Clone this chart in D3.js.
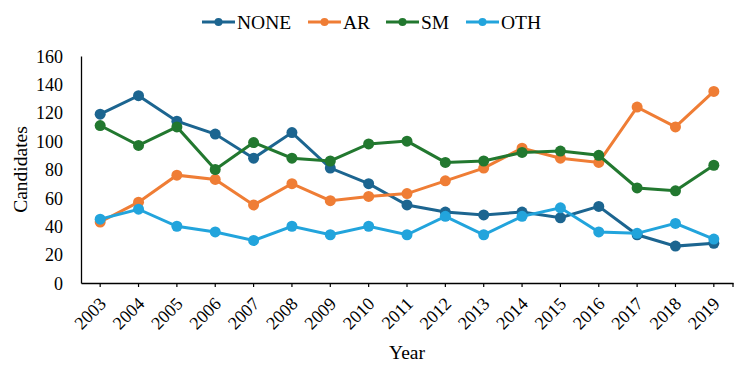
<!DOCTYPE html>
<html>
<head>
<meta charset="utf-8">
<script src="https://cdn.jsdelivr.net/npm/d3@7"></script>
</head>
<body style="margin:0;background:#fff">
<script>
var years = ["2003","2004","2005","2006","2007","2008","2009","2010","2011","2012","2013","2014","2015","2016","2017","2018","2019"];
var seriesNames = ["NONE", "AR", "SM", "OTH"];
var noneVals = [119, 132, 114, 105, 88, 106, 81, 70, 55, 50, 48, 50, 46, 54, 34, 26, 28];
var arVals   = [43, 57, 76, 73, 55, 70, 58, 61, 63, 72, 81, 95, 88, 85, 124, 110, 135];
var smVals   = [111, 97, 110, 80, 99, 88, 86, 98, 100, 85, 86, 92, 93, 90, 67, 65, 83];
var othVals  = [45, 52, 40, 36, 30, 40, 34, 40, 34, 47, 34, 47, 53, 36, 35, 42, 31];
var yTicks = [0, 20, 40, 60, 80, 100, 120, 140, 160];
var colors = ["#1c6590", "#ef7d35", "#22782f", "#22a4dc"];

function main(){
	var w = 750, h = 365;
	var left = 81, right = 733, top = 56, bottom = 283;
	var serif = "'Liberation Serif'";

	var svg = d3.select("body").append("svg")
		.attr("width", w).attr("height", h);

	var xScale = d3.scaleBand().domain(years).range([left, right]);
	var yScale = d3.scaleLinear().domain([0, 160]).range([bottom, top]);

	var series = [noneVals, arVals, smVals, othVals].map(function(v, i){
		return { name: seriesNames[i], color: colors[i], values: v };
	});

	// y axis: line + labels, no tick marks
	var yAxis = d3.axisLeft(yScale).tickValues(yTicks).tickSize(0).tickPadding(18);
	var gy = svg.append("g").attr("transform", "translate(" + left + ",0)").call(yAxis);
	gy.select(".domain").attr("stroke", "#000").attr("stroke-width", 1.3);
	gy.selectAll("text")
		.style("font-family", serif).style("font-size", "18px")
		.attr("fill", "#000").attr("dy", "0.34em");

	// x axis
	var xAxis = d3.axisBottom(xScale).tickSizeOuter(0).tickSizeInner(4);
	var gx = svg.append("g").attr("transform", "translate(0," + bottom + ")").call(xAxis);
	gx.select(".domain").attr("stroke", "#000").attr("stroke-width", 1.3);
	gx.selectAll(".tick line").attr("stroke", "#000").attr("stroke-width", 1.2);
	gx.append("line")
		.attr("x1", xScale.range()[1]).attr("x2", xScale.range()[1])
		.attr("y1", 0).attr("y2", 4)
		.attr("stroke", "#000").attr("stroke-width", 1.2);
	gx.selectAll(".tick text")
		.style("font-family", serif).style("font-size", "18px")
		.attr("fill", "#000")
		.attr("text-anchor", "end")
		.attr("x", 0).attr("y", 0).attr("dy", 0)
		.attr("transform", "translate(7,22) rotate(-45)");

	// axis titles
	svg.append("text")
		.attr("x", (left + right) / 2).attr("y", 359)
		.attr("text-anchor", "middle")
		.style("font-family", serif).style("font-size", "19.5px")
		.text("Year");
	svg.append("text")
		.attr("transform", "translate(27," + ((top + bottom) / 2) + ") rotate(-90)")
		.attr("text-anchor", "middle")
		.style("font-family", serif).style("font-size", "19.5px")
		.text("Candidates");

	// lines and points
	var line = d3.line()
		.x(function(d, i){ return xScale(years[i]) + xScale.bandwidth() / 2; })
		.y(function(d){ return yScale(d); });

	var g = svg.selectAll(".series").data(series).enter().append("g").attr("class", "series");
	g.append("path")
		.attr("d", function(d){ return line(d.values); })
		.attr("fill", "none")
		.attr("stroke", function(d){ return d.color; })
		.attr("stroke-width", 3);
	g.selectAll(".dot")
		.data(function(d){ return d.values.map(function(v, i){ return { v: v, i: i, color: d.color }; }); })
		.enter().append("circle")
		.attr("class", "dot")
		.attr("cx", function(d){ return xScale(years[d.i]) + xScale.bandwidth() / 2; })
		.attr("cy", function(d){ return yScale(d.v); })
		.attr("r", 5.5)
		.attr("fill", function(d){ return d.color; });

	// legend
	var legendX = [202, 308, 386, 466];
	var leg = svg.selectAll(".leg").data(series).enter().append("g")
		.attr("class", "leg")
		.attr("transform", function(d, i){ return "translate(" + legendX[i] + ",22)"; });
	leg.append("line")
		.attr("x1", 0).attr("x2", 33).attr("y1", 0).attr("y2", 0)
		.attr("stroke", function(d){ return d.color; })
		.attr("stroke-width", 3);
	leg.append("circle")
		.attr("cx", 16.5).attr("cy", 0).attr("r", 4)
		.attr("fill", function(d){ return d.color; });
	leg.append("text")
		.attr("x", 35).attr("y", 0).attr("dy", "0.35em")
		.style("font-family", serif).style("font-size", "19.5px")
		.text(function(d){ return d.name; });
}

main();
</script>
</body>
</html>
